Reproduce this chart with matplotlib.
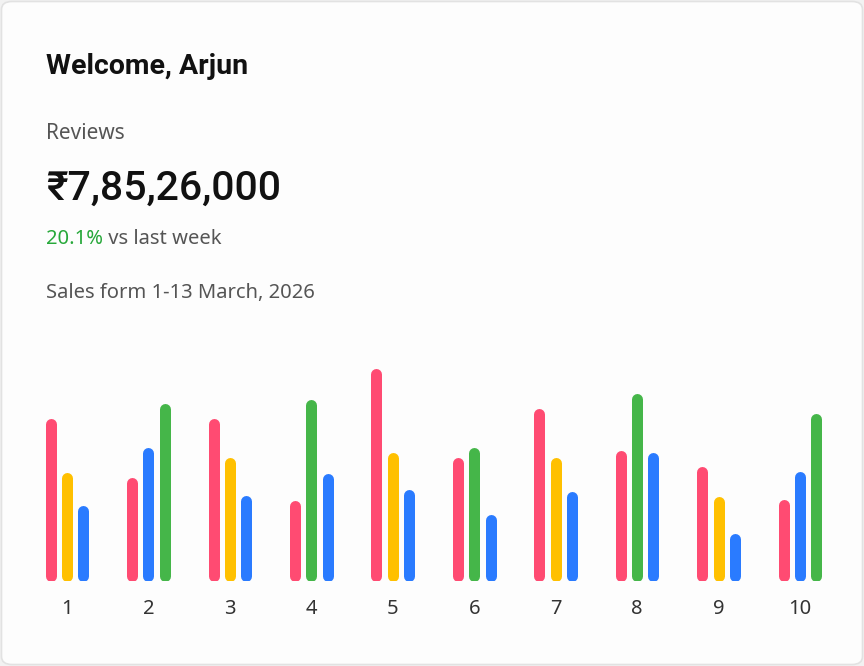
import matplotlib
matplotlib.use('Agg')
import matplotlib.pyplot as plt
from matplotlib.patches import FancyBboxPatch

plt.rcParams['font.family'] = ['Noto Sans', 'DejaVu Sans']

# ---- data ----
days = ['1', '2', '3', '4', '5', '6', '7', '8', '9', '10']
bar_a = [163, 104, 163, 81, 213, 124, 173, 131, 115, 82]
bar_b = [109, 134, 124, 182, 129, 134, 124, 188, 85, 110]
bar_c = [76, 178, 86, 108, 92, 67, 90, 129, 48, 168]
colors_a = ['pink'] * 10
colors_b = ['yellow', 'blue', 'yellow', 'green', 'yellow', 'green', 'yellow', 'green', 'yellow', 'blue']
colors_c = ['blue', 'green', 'blue', 'blue', 'blue', 'blue', 'blue', 'blue', 'blue', 'green']

palette = {'pink': '#FF4B72', 'yellow': '#FFC000', 'blue': '#2A7BFF', 'green': '#45B649'}

W, H = 864, 666
fig = plt.figure(figsize=(W / 100, H / 100), dpi=100)
fig.patch.set_facecolor('#f2f2f2')

# card behind everything
card = FancyBboxPatch((1.5 / W, 1.5 / H), (W - 3) / W, (H - 3) / H,
                      boxstyle='round,pad=0,rounding_size=0.012',
                      transform=fig.transFigure, facecolor='#fdfdfd',
                      edgecolor='#e2e2e2', linewidth=1.2, zorder=-10)
fig.patches.append(card)

# bar area: 1 y-unit = 1 px, baseline at y=581
left_px, right_px = 30, 840
base_px, top_px = 581, 341
ax = fig.add_axes([left_px / W, (H - base_px) / H, (right_px - left_px) / W, (base_px - top_px) / H])
ax.set_facecolor('none')
step = (800 - 67) / 9
ax.set_xlim(-(67 - left_px) / step, -(67 - left_px) / step + (right_px - left_px) / step)
ax.set_ylim(0, base_px - top_px)

lw_px = 11
cap = lw_px / 2
off = 16.3 / step
xs = list(range(len(days)))
for offset, vals, cols in [(-off, bar_a, colors_a), (0, bar_b, colors_b), (off, bar_c, colors_c)]:
    for x, v, c in zip(xs, vals, cols):
        ax.vlines(x + offset, cap, v - cap, color=palette[c], linewidth=lw_px * 0.72,
                  capstyle='round')

ax.set_xticks(xs, days)
ax.tick_params(axis='x', length=0, pad=13, labelsize=14.5, labelcolor='#333333')
ax.set_yticks([])
for s in ax.spines.values():
    s.set_visible(False)

# header texts
bold = ['Roboto', 'DejaVu Sans']
x0 = 46 / W
fig.text(x0, 1 - 74 / H, 'Welcome, Arjun', fontsize=20.5, fontweight='bold', family=bold,
         color='#111111', va='baseline')
fig.text(x0, 1 - 139 / H, 'Reviews', fontsize=15, color='#555555', va='baseline')
fig.text(x0, 1 - 200 / H, '₹7,85,26,000', fontsize=29.5, fontweight='medium', family=bold,
         color='#111111', va='baseline')
t1 = fig.text(x0, 1 - 244 / H, '20.1%', fontsize=14.5, color='#27A83A', va='baseline')
ax.annotate(' vs last week', xy=(1, 0), xycoords=t1, ha='left', va='bottom',
            fontsize=14.5, color='#555555', annotation_clip=False)
fig.text(x0, 1 - 298 / H, 'Sales form 1-13 March, 2026', fontsize=14.5, color='#555555', va='baseline')

fig.savefig('out.png', dpi=100, facecolor=fig.get_facecolor())
